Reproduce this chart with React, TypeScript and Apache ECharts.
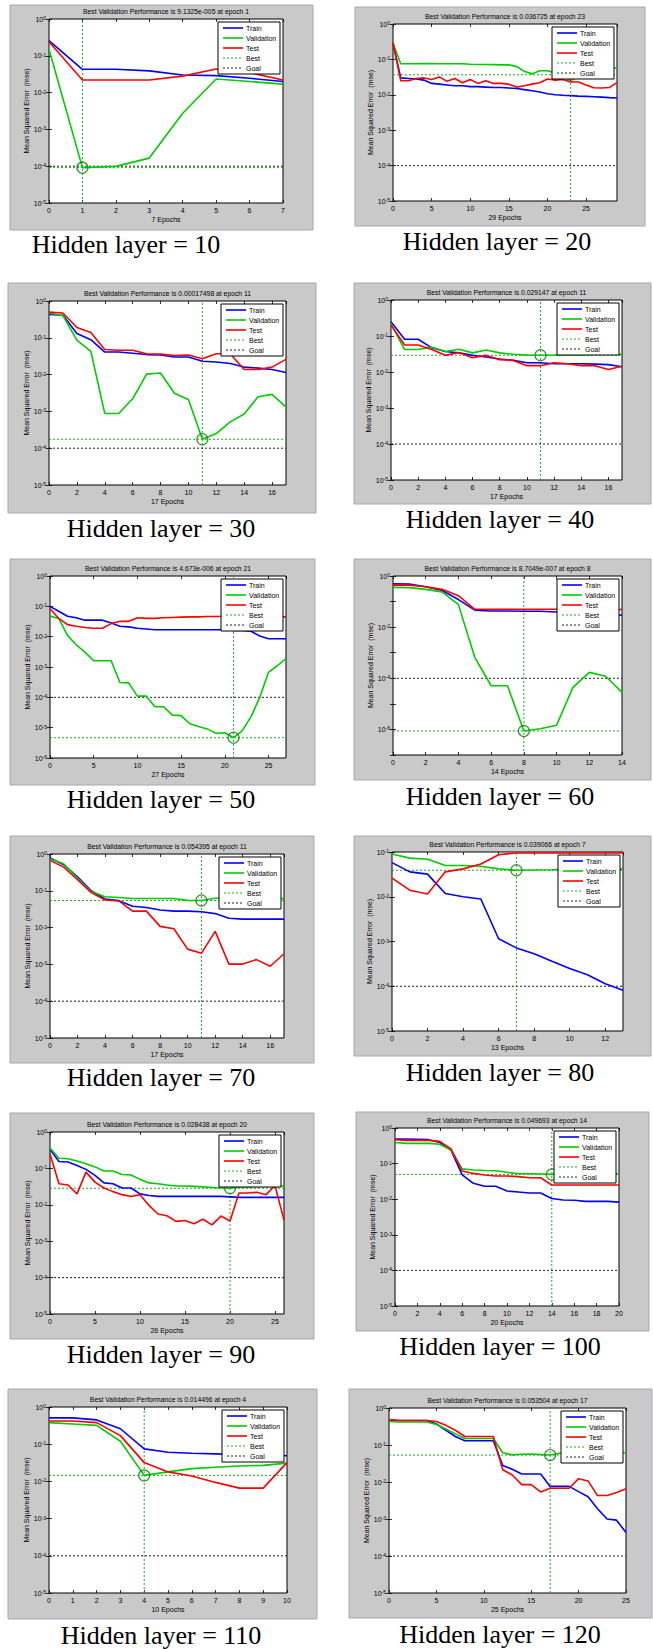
import React, { useEffect, useRef } from "react";
import * as echarts from "echarts";

// ---------- data ----------
const hiddenLayers = [10, 20, 30, 40, 50, 60, 70, 80, 90, 100, 110, 120];
const epochCounts = [7, 29, 17, 17, 27, 14, 17, 13, 26, 20, 10, 25];
const bestEpochs = [1, 23, 11, 11, 21, 8, 11, 7, 20, 14, 4, 17];
const bestValues = [9.1325e-5, 0.036725, 0.00017498, 0.029147, 4.673e-6, 8.7049e-7, 0.054395, 0.039066, 0.028438, 0.049693, 0.014496, 0.053504];
const bestLabels = ["9.1325e-005", "0.036725", "0.00017498", "0.029147", "4.673e-006", "8.7049e-007", "0.054395", "0.039066", "0.028438", "0.049693", "0.014496", "0.053504"];
const goalValue = 1e-4;
const yMinExp = [-5, -5, -5, -5, -6, -7, -5, -5, -5, -5, -5, -5];
const yMaxExp = [0, 0, 0, 0, 0, 0, 0, -1, 0, 0, 0, 0];
const xTickSteps = [1, 5, 2, 2, 5, 2, 2, 2, 5, 2, 1, 5];
const legendNames = ["Train", "Validation", "Test", "Best", "Goal"];

const train10 = [0.26, 0.043, 0.043, 0.039, 0.03, 0.029, 0.0245, 0.02];
const val10 = [0.15, 9.1325e-5, 9.9e-5, 1.66e-4, 2.75e-3, 0.0235, 0.02, 0.017];
const test10 = [0.24, 0.022, 0.022, 0.022, 0.028, 0.044, 0.035, 0.022];

const train20 = [0.29, 0.03, 0.029, 0.028, 0.026, 0.021, 0.02, 0.019, 0.018, 0.018, 0.017, 0.017, 0.0165, 0.016, 0.016, 0.0155, 0.015, 0.014, 0.013, 0.012, 0.0107, 0.01, 0.0097, 0.0095, 0.0092, 0.009, 0.0088, 0.0086, 0.0083, 0.0081];
const val20 = [0.29, 0.075, 0.075, 0.075, 0.076, 0.076, 0.075, 0.075, 0.075, 0.075, 0.073, 0.072, 0.072, 0.071, 0.07, 0.07, 0.063, 0.046, 0.039, 0.048, 0.048, 0.041, 0.037, 0.036725, 0.04, 0.045, 0.05, 0.052, 0.055, 0.057];
const test20 = [0.29, 0.025, 0.025, 0.029, 0.03, 0.027, 0.032, 0.024, 0.029, 0.022, 0.027, 0.021, 0.025, 0.021, 0.021, 0.02, 0.0165, 0.018, 0.02, 0.022, 0.028, 0.026, 0.027, 0.023, 0.023, 0.019, 0.0158, 0.0155, 0.016, 0.022];

const train30 = [0.43, 0.41, 0.13, 0.089, 0.041, 0.041, 0.038, 0.035, 0.034, 0.03, 0.03, 0.023, 0.022, 0.02, 0.016, 0.015, 0.0137, 0.0114];
const val30 = [0.47, 0.4, 0.086, 0.043, 8.8e-4, 8.8e-4, 2.2e-3, 0.0103, 0.011, 3.1e-3, 2.1e-3, 1.7498e-4, 2.5e-4, 5.2e-4, 8.5e-4, 2.5e-3, 2.9e-3, 1.3e-3];
const test30 = [0.5, 0.47, 0.19, 0.14, 0.048, 0.046, 0.046, 0.037, 0.036, 0.033, 0.034, 0.027, 0.037, 0.037, 0.0137, 0.0137, 0.016, 0.026];

const train40 = [0.25, 0.081, 0.081, 0.047, 0.037, 0.034, 0.029, 0.026, 0.023, 0.021, 0.018, 0.018, 0.017, 0.017, 0.017, 0.0165, 0.016, 0.014];
const val40 = [0.22, 0.042, 0.042, 0.049, 0.037, 0.043, 0.034, 0.041, 0.034, 0.031, 0.0295, 0.029147, 0.0295, 0.03, 0.03, 0.031, 0.031, 0.031];
const test40 = [0.2, 0.056, 0.056, 0.042, 0.029, 0.035, 0.025, 0.029, 0.022, 0.021, 0.015, 0.015, 0.018, 0.017, 0.015, 0.015, 0.0117, 0.0145];

const train50 = [0.1, 0.069, 0.047, 0.042, 0.035, 0.035, 0.035, 0.028, 0.022, 0.021, 0.019, 0.018, 0.017, 0.017, 0.017, 0.017, 0.017, 0.017, 0.017, 0.017, 0.017, 0.016, 0.016, 0.015, 0.0105, 0.0085, 0.0085, 0.0085];
const val50 = [0.048, 0.04, 0.011, 0.0054, 0.0031, 1.6e-3, 1.6e-3, 1.6e-3, 3.1e-4, 3.0e-4, 1.1e-4, 1.1e-4, 4.9e-5, 4.9e-5, 2.6e-5, 2.5e-5, 1.35e-5, 1.1e-5, 9.1e-6, 6.5e-6, 6.8e-6, 4.673e-6, 8e-6, 2.3e-5, 1e-4, 6.7e-4, 1.1e-3, 1.9e-3];
const test50 = [0.085, 0.04, 0.025, 0.022, 0.02, 0.019, 0.019, 0.027, 0.032, 0.032, 0.042, 0.04, 0.04, 0.042, 0.043, 0.044, 0.045, 0.045, 0.046, 0.046, 0.047, 0.047, 0.047, 0.047, 0.046, 0.046, 0.045, 0.045];

const train60 = [0.49, 0.48, 0.38, 0.27, 0.12, 0.046, 0.043, 0.043, 0.042, 0.042, 0.039, 0.037, 0.035, 0.033, 0.029];
const val60 = [0.36, 0.35, 0.3, 0.24, 0.076, 6.6e-4, 5.1e-5, 5.1e-5, 8.7049e-7, 1.07e-6, 1.45e-6, 4.4e-5, 1.7e-4, 1.2e-4, 2.8e-5];
const test60 = [0.44, 0.44, 0.38, 0.3, 0.17, 0.05, 0.05, 0.05, 0.05, 0.05, 0.05, 0.05, 0.05, 0.05, 0.049];

const train70 = [0.78, 0.51, 0.24, 0.1, 0.06, 0.054, 0.038, 0.035, 0.03, 0.028, 0.028, 0.027, 0.024, 0.018, 0.017, 0.017, 0.017, 0.017];
const val70 = [0.73, 0.54, 0.22, 0.095, 0.069, 0.066, 0.062, 0.062, 0.062, 0.062, 0.055, 0.054395, 0.063, 0.063, 0.063, 0.062, 0.062, 0.062];
const test70 = [0.67, 0.44, 0.2, 0.089, 0.056, 0.053, 0.028, 0.028, 0.0108, 0.0093, 2.6e-3, 2.0e-3, 7.9e-3, 1.02e-3, 1.02e-3, 1.35e-3, 8.9e-4, 1.95e-3];

const train80 = [0.058, 0.036, 0.032, 0.0118, 0.01, 0.0089, 1.15e-3, 7.2e-4, 5.3e-4, 3.6e-4, 2.5e-4, 1.8e-4, 1.14e-4, 8.1e-5];
const val80 = [0.09, 0.073, 0.069, 0.05, 0.05, 0.048, 0.042, 0.039066, 0.0395, 0.04, 0.042, 0.042, 0.042, 0.042];
const test80 = [0.026, 0.014, 0.0115, 0.036, 0.042, 0.054, 0.087, 0.095, 0.095, 0.095, 0.095, 0.095, 0.095, 0.095];

const train90 = [0.33, 0.155, 0.15, 0.12, 0.094, 0.064, 0.04, 0.038, 0.029, 0.029, 0.02, 0.018, 0.017, 0.017, 0.017, 0.017, 0.017, 0.017, 0.017, 0.017, 0.0165, 0.016, 0.016, 0.016, 0.016, 0.016, 0.016];
const val90 = [0.36, 0.19, 0.185, 0.16, 0.135, 0.11, 0.085, 0.085, 0.068, 0.066, 0.05, 0.04, 0.038, 0.035, 0.033, 0.033, 0.032, 0.031, 0.03, 0.029, 0.028438, 0.031, 0.031, 0.032, 0.032, 0.033, 0.033];
const test90 = [0.25, 0.038, 0.035, 0.02, 0.079, 0.042, 0.029, 0.023, 0.019, 0.017, 0.019, 0.0096, 0.0056, 0.005, 0.0035, 0.0037, 0.003, 0.004, 0.0028, 0.0049, 0.0036, 0.021, 0.021, 0.022, 0.019, 0.034, 0.0038];

const train100 = [0.49, 0.49, 0.48, 0.47, 0.39, 0.24, 0.048, 0.028, 0.023, 0.023, 0.017, 0.016, 0.015, 0.015, 0.0105, 0.0095, 0.0093, 0.0087, 0.0087, 0.0087, 0.0083];
const val100 = [0.39, 0.37, 0.37, 0.37, 0.35, 0.24, 0.071, 0.066, 0.064, 0.063, 0.057, 0.052, 0.052, 0.051, 0.049693, 0.052, 0.052, 0.052, 0.052, 0.052, 0.052];
const test100 = [0.47, 0.45, 0.45, 0.45, 0.42, 0.26, 0.062, 0.053, 0.048, 0.045, 0.045, 0.043, 0.04, 0.04, 0.025, 0.025, 0.025, 0.025, 0.025, 0.025, 0.025];

const train110 = [0.51, 0.51, 0.45, 0.26, 0.075, 0.061, 0.057, 0.055, 0.052, 0.052, 0.049];
const val110 = [0.38, 0.35, 0.32, 0.12, 0.014496, 0.018, 0.022, 0.024, 0.026, 0.027, 0.031];
const test110 = [0.42, 0.42, 0.38, 0.17, 0.032, 0.018, 0.014, 0.0094, 0.0066, 0.0066, 0.032];

const train120 = [0.48, 0.46, 0.46, 0.46, 0.46, 0.37, 0.25, 0.17, 0.13, 0.13, 0.13, 0.13, 0.028, 0.022, 0.0165, 0.0165, 0.0165, 0.0076, 0.0076, 0.0076, 0.0055, 0.004, 0.0019, 0.001, 9.3e-4, 4.3e-4];
const val120 = [0.43, 0.42, 0.42, 0.42, 0.42, 0.36, 0.27, 0.2, 0.15, 0.15, 0.15, 0.15, 0.062, 0.054, 0.056, 0.057, 0.055, 0.053504, 0.06, 0.061, 0.062, 0.062, 0.062, 0.062, 0.062, 0.062];
const test120 = [0.49, 0.46, 0.46, 0.46, 0.46, 0.43, 0.34, 0.25, 0.17, 0.17, 0.17, 0.17, 0.0215, 0.0155, 0.0085, 0.0085, 0.0054, 0.0068, 0.0068, 0.0068, 0.0123, 0.0107, 0.0043, 0.0043, 0.0052, 0.0066];

const trainSeries = [train10, train20, train30, train40, train50, train60, train70, train80, train90, train100, train110, train120];
const valSeries = [val10, val20, val30, val40, val50, val60, val70, val80, val90, val100, val110, val120];
const testSeries = [test10, test20, test30, test40, test50, test60, test70, test80, test90, test100, test110, test120];

// ---------- layout (page pixels) ----------
const LAYOUT = [
  { box: [10, 5, 303, 225], plot: [49, 19, 234, 184], label: [126, 244] },
  { box: [355, 7, 290, 219], plot: [393, 24, 224, 177], label: [497, 241] },
  { box: [8, 283, 308, 230], plot: [49, 301, 237, 184], label: [161, 528] },
  { box: [354, 283, 297, 221], plot: [391, 300, 231, 180], label: [500, 519] },
  { box: [10, 559, 305, 226], plot: [50, 576, 236, 182], label: [161, 799] },
  { box: [354, 559, 297, 221], plot: [393, 576, 229, 179], label: [500, 796] },
  { box: [10, 836, 304, 227], plot: [50, 854, 234, 184], label: [161, 1077] },
  { box: [354, 836, 297, 220], plot: [392, 852, 231, 179], label: [500, 1072] },
  { box: [10, 1113, 304, 226], plot: [50, 1132, 234, 182], label: [161, 1354] },
  { box: [356, 1112, 293, 219], plot: [395, 1128, 224, 178], label: [500, 1346] },
  { box: [8, 1389, 309, 230], plot: [49, 1407, 238, 186], label: [161, 1635] },
  { box: [349, 1389, 303, 229], plot: [389, 1408, 237, 185], label: [500, 1634] },
];

const SANS = "'Liberation Sans', Arial, sans-serif";
const SERIF = "'Liberation Serif', 'Times New Roman', serif";
const C_TRAIN = "#0000ff";
const C_VAL = "#00cc00";
const C_TEST = "#ff0000";
const C_BEST = "#22aa22";
const C_GOAL = "#222222";
const LEGEND_STYLES = [
  { color: C_TRAIN, type: "solid", width: 1.6 },
  { color: C_VAL, type: "solid", width: 1.6 },
  { color: C_TEST, type: "solid", width: 1.6 },
  { color: C_BEST, type: [2, 2], width: 1 },
  { color: C_GOAL, type: [2, 2], width: 1 },
];

function buildOption() {
  const grid: any[] = [];
  const xAxis: any[] = [];
  const yAxis: any[] = [];
  const series: any[] = [];
  const graphic: any[] = [];

  hiddenLayers.forEach((hl, i) => {
    const L = LAYOUT[i];
    const [px, py, pw, ph] = L.plot;
    const n = epochCounts[i];
    const step = xTickSteps[i];
    const yMin = Math.pow(10, yMinExp[i]);
    const yMax = Math.pow(10, yMaxExp[i]);
    const sparse = yMaxExp[i] - yMinExp[i] > 6;

    grid.push({ left: px, top: py, width: pw, height: ph, show: true, backgroundColor: "#ffffff", borderColor: "#000", borderWidth: 1 });

    const tick = { show: true, inside: true, length: 3, lineStyle: { color: "#000", width: 0.8 } };
    const xBase = { type: "value", gridIndex: i, min: 0, max: n, interval: step, splitLine: { show: false }, axisLine: { show: false }, axisTick: tick };
    xAxis.push({
      ...xBase, position: "bottom",
      name: `${n} Epochs`, nameLocation: "middle", nameGap: 13,
      nameTextStyle: { fontSize: 7, color: "#000", fontFamily: SANS },
      axisLabel: { fontSize: 7, color: "#000", margin: 4, fontFamily: SANS, showMaxLabel: n % step === 0 },
    });
    xAxis.push({ ...xBase, position: "top", axisLabel: { show: false } });

    const yBase = { type: "log", logBase: 10, gridIndex: i, min: yMin, max: yMax, splitLine: { show: false }, axisLine: { show: false }, axisTick: tick };
    yAxis.push({
      ...yBase, position: "left",
      name: "Mean Squared Error  (mse)", nameLocation: "middle", nameGap: 19,
      nameTextStyle: { fontSize: 7, color: "#000", fontFamily: SANS },
      axisLabel: {
        margin: 3, color: "#000", fontFamily: SANS,
        formatter: (v: number) => {
          const e = Math.round(Math.log10(v));
          if (sparse && e % 2 !== 0) return "";
          return `{b|10}{s|${e}}`;
        },
        rich: {
          b: { fontSize: 7, lineHeight: 7, verticalAlign: "bottom", fontFamily: SANS, color: "#000" },
          s: { fontSize: 5, lineHeight: 5, padding: [0, 0, 5, 0], verticalAlign: "top", fontFamily: SANS, color: "#000" },
        },
      },
    });
    yAxis.push({ ...yBase, position: "right", axisLabel: { show: false } });

    const xi = 2 * i;
    const yi = 2 * i;
    const lineBase = { type: "line", xAxisIndex: xi, yAxisIndex: yi, showSymbol: false, symbol: "none", clip: true, silent: true };

    series.push({ ...lineBase, name: "Best", data: [[bestEpochs[i], yMin], [bestEpochs[i], yMax]], lineStyle: { color: C_BEST, width: 1, type: [2, 2] }, z: 1 });
    series.push({ ...lineBase, name: "Best", data: [[0, bestValues[i]], [n, bestValues[i]]], lineStyle: { color: C_BEST, width: 1, type: [2, 2] }, z: 1 });
    series.push({ ...lineBase, name: "Goal", data: [[0, goalValue], [n, goalValue]], lineStyle: { color: C_GOAL, width: 1, type: [2, 2] }, z: 1 });
    series.push({ ...lineBase, name: "Train", data: trainSeries[i].map((v, k) => [k, v]), lineStyle: { color: C_TRAIN, width: 1.6 }, z: 3 });
    series.push({ ...lineBase, name: "Validation", data: valSeries[i].map((v, k) => [k, v]), lineStyle: { color: C_VAL, width: 1.6 }, z: 3 });
    series.push({ ...lineBase, name: "Test", data: testSeries[i].map((v, k) => [k, v]), lineStyle: { color: C_TEST, width: 1.6 }, z: 3 });
    series.push({
      type: "scatter", xAxisIndex: xi, yAxisIndex: yi, name: "Best", silent: true,
      data: [[bestEpochs[i], bestValues[i]]], symbol: "circle", symbolSize: 11,
      itemStyle: { color: "rgba(0,0,0,0)", borderColor: "#007a00", borderWidth: 1.2 }, z: 4,
    });

    // gray figure background
    const [bx, by, bw, bh] = L.box;
    graphic.push({ type: "rect", z: -10, silent: true, shape: { x: bx, y: by, width: bw, height: bh }, style: { fill: "#c9c9c9", stroke: "#a6a6b2", lineWidth: 1 } });
    // title
    graphic.push({
      type: "text", z: 5, x: px + pw / 2, y: py - 8, silent: true,
      style: { text: `Best Validation Performance is ${bestLabels[i]} at epoch ${bestEpochs[i]}`, fontSize: 6.8, fontFamily: SANS, fill: "#000", align: "center", verticalAlign: "middle" },
    });
    // caption
    graphic.push({
      type: "text", z: 5, x: L.label[0], y: L.label[1], silent: true,
      style: { text: `Hidden layer = ${hl}`, fontSize: 26, fontFamily: SERIF, fill: "#000", align: "center", verticalAlign: "middle" },
    });
    // legend (drawn above the curves)
    const lw = 62, lh = 52;
    const lx = px + pw - 3 - lw;
    const ly = py + 3;
    graphic.push({ type: "rect", z: 50, silent: true, shape: { x: lx, y: ly, width: lw, height: lh }, style: { fill: "#fff", stroke: "#000", lineWidth: 1 } });
    legendNames.forEach((name, k) => {
      const ry = ly + 6 + k * 10;
      const st = LEGEND_STYLES[k];
      graphic.push({ type: "line", z: 51, silent: true, shape: { x1: lx + 5, y1: ry, x2: lx + 25, y2: ry }, style: { stroke: st.color, lineWidth: st.width, lineDash: st.type === "solid" ? null : st.type } });
      graphic.push({ type: "text", z: 51, silent: true, x: lx + 28, y: ry, style: { text: name, fontSize: 7, fontFamily: SANS, fill: "#000", align: "left", verticalAlign: "middle" } });
    });
  });

  return { animation: false, backgroundColor: "#ffffff", grid, xAxis, yAxis, series, graphic };
}

export default function App() {
  const ref = useRef<HTMLDivElement>(null);
  useEffect(() => {
    if (!ref.current) return;
    const chart = echarts.init(ref.current, undefined, { renderer: "svg" });
    chart.setOption(buildOption() as any);
    return () => chart.dispose();
  }, []);
  return <div ref={ref} style={{ position: "absolute", left: 0, top: 0, width: 653, height: 1649, background: "#fff" }} />;
}
